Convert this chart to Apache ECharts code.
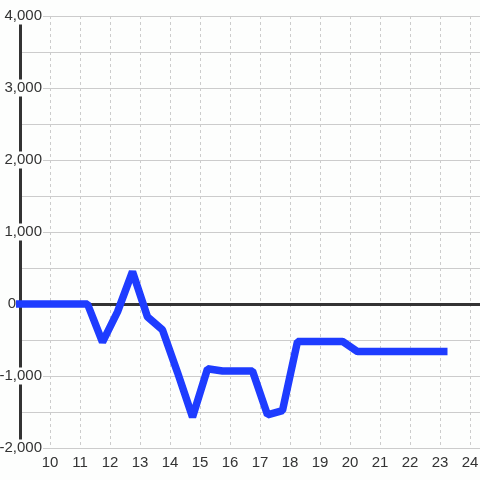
<!DOCTYPE html>
<html>
<head>
<meta charset="utf-8">
<script src="https://cdn.jsdelivr.net/npm/echarts@6/dist/echarts.min.js"></script>
<style>
  html, body { margin: 0; padding: 0; background: #fdfefd; }
  #chart { width: 480px; height: 480px; }
</style>
</head>
<body>
<div id="chart"></div>
<script>
  // half-hour readings, plotted at the middle of each slot
  var hours = [8.75, 9.25, 9.75, 10.25, 10.75, 11.25, 11.75, 12.25, 12.75, 13.25, 13.75, 14.25,
    14.75, 15.25, 15.75, 16.25, 16.75, 17.25, 17.75, 18.25, 18.75, 19.25, 19.75, 20.25,
    20.75, 21.25, 21.75, 22.25, 22.75, 23.25];
  var values = [0, 0, 0, 0, 0, 0, -530, -110, 450, -180, -360, -950,
    -1570, -900, -930, -930, -930, -1540, -1480, -520, -520, -520, -520, -660,
    -660, -660, -660, -660, -660, -660];
  var yTicks = [-2000, -1000, 0, 1000, 2000, 3000, 4000];

  var bg = '#fdfefd';
  var font = 'Liberation Sans';
  var chart = echarts.init(document.getElementById('chart'));

  chart.setOption({
    backgroundColor: bg,
    animation: false,
    grid: {
      left: 20,
      top: 16,
      right: 0,
      bottom: 32,
      containLabel: false,
      outerBoundsMode: 'none'
    },
    xAxis: {
      type: 'value',
      min: 9,
      max: 9 + 460 / 30,
      interval: 1,
      axisLine: { show: false },
      axisTick: { show: false },
      axisLabel: {
        showMinLabel: false,
        showMaxLabel: false,
        margin: 7,
        fontSize: 15,
        fontFamily: font,
        color: '#333'
      },
      splitLine: {
        show: true,
        lineStyle: { color: '#ccc', type: [3, 3], width: 1 }
      }
    },
    yAxis: {
      type: 'value',
      min: yTicks[0],
      max: yTicks[yTicks.length - 1],
      interval: 1000,
      axisLine: { show: true, lineStyle: { color: '#333', width: 3 } },
      axisTick: { show: false },
      minorTick: { show: false, splitNumber: 2 },
      minorSplitLine: { show: true, lineStyle: { color: '#ccc', width: 1 } },
      splitLine: { show: true, lineStyle: { color: '#ccc', width: 1 } },
      axisLabel: {
        margin: -23,
        fontSize: 15,
        fontFamily: font,
        color: '#333',
        formatter: function (v) {
          if (v === 0) {
            return '{z|0}';
          }
          return '{b|' + v.toLocaleString('en-US') + '}';
        },
        rich: {
          z: {
            fontSize: 15,
            fontFamily: font,
            color: '#333',
            padding: [0, 27, 0, 0]
          },
          b: {
            fontSize: 15,
            fontFamily: font,
            color: '#333',
            backgroundColor: bg,
            padding: [1, 1, 1, 1]
          }
        }
      }
    },
    series: [
      {
        // zero line
        type: 'line',
        z: 1,
        data: [[9, 0]],
        symbol: 'none',
        lineStyle: { opacity: 0 },
        silent: true,
        markLine: {
          z: 1,
          silent: true,
          symbol: 'none',
          label: { show: false },
          lineStyle: { color: '#333', width: 3, type: 'solid' },
          data: [{ yAxis: 0 }]
        }
      },
      {
        type: 'line',
        z: 10,
        data: hours.map(function (h, i) { return [h, values[i]]; }),
        symbol: 'none',
        lineStyle: { color: '#1e3cff', width: 7.5 }
      }
    ]
  });
</script>
</body>
</html>
